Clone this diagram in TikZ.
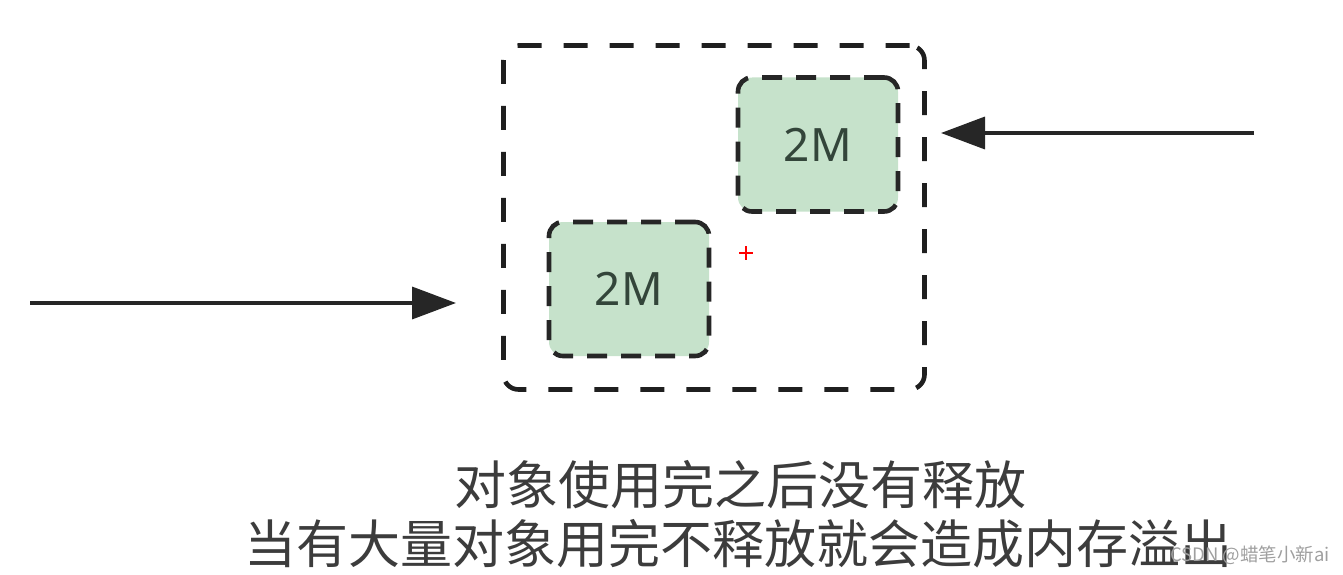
\documentclass[tikz,border=0pt]{standalone}
\usepackage{fontspec}
\setmainfont{Noto Sans}
\newfontfamily\cjk{Noto Sans CJK SC}
\usetikzlibrary{arrows.meta}
\definecolor{blockgreen}{HTML}{C6E2CB}
\definecolor{blocktext}{HTML}{33453A}
\definecolor{captiongray}{HTML}{3C3C3C}
\begin{document}
\begin{tikzpicture}[x=1pt, y=-1pt,
		poolbox/.style={draw=black!88, line width=4.6pt, dash pattern=on 24pt off 22pt, rounded corners=15pt, minimum width=421pt, minimum height=344pt, inner sep=0pt},
		blockbox/.style={draw=black!85, line width=4.6pt, dash pattern=on 20pt off 14pt, rounded corners=14pt, fill=blockgreen, minimum width=160pt, minimum height=134pt, inner sep=0pt, text=blocktext, font=\fontsize{46}{50}\selectfont},
		feed/.style={-{Triangle[length=44pt, width=32pt]}, line width=3.6pt, black!85}]
	\useasboundingbox (0,0) rectangle (1343,575);
	\node[poolbox] (pool) at (714,217.5) {};
	\node[blockbox] (blockA) at (818,144.5) {2M};
	\node[blockbox] (blockB) at (629,289) {2M};
	\coordinate (inStart) at (30,303);
	\coordinate (inEnd) at (456,303);
	\coordinate (outStart) at (1254,133);
	\coordinate (outEnd) at (941,133);
	\draw[feed] (inStart) -- (inEnd);
	\draw[feed] (outStart) -- (outEnd);
	\draw[red, line width=2.4pt] (739,253) -- (753,253);
	\draw[red, line width=2.4pt] (746,246) -- (746,260);
	\node[text=captiongray, font=\cjk\fontsize{52}{56}\selectfont] (captionA) at (740,485) {对象使用完之后没有释放};
	\node[text=captiongray, font=\cjk\fontsize{52}{56}\selectfont] (captionB) at (738,544) {当有大量对象用完不释放就会造成内存溢出};
	\node[text=gray!75, font=\cjk\fontsize{18.5}{20}\selectfont, anchor=east, inner sep=0pt] (mark) at (1330,555) {CSDN @蜡笔小新ai};
\end{tikzpicture}
\end{document}
